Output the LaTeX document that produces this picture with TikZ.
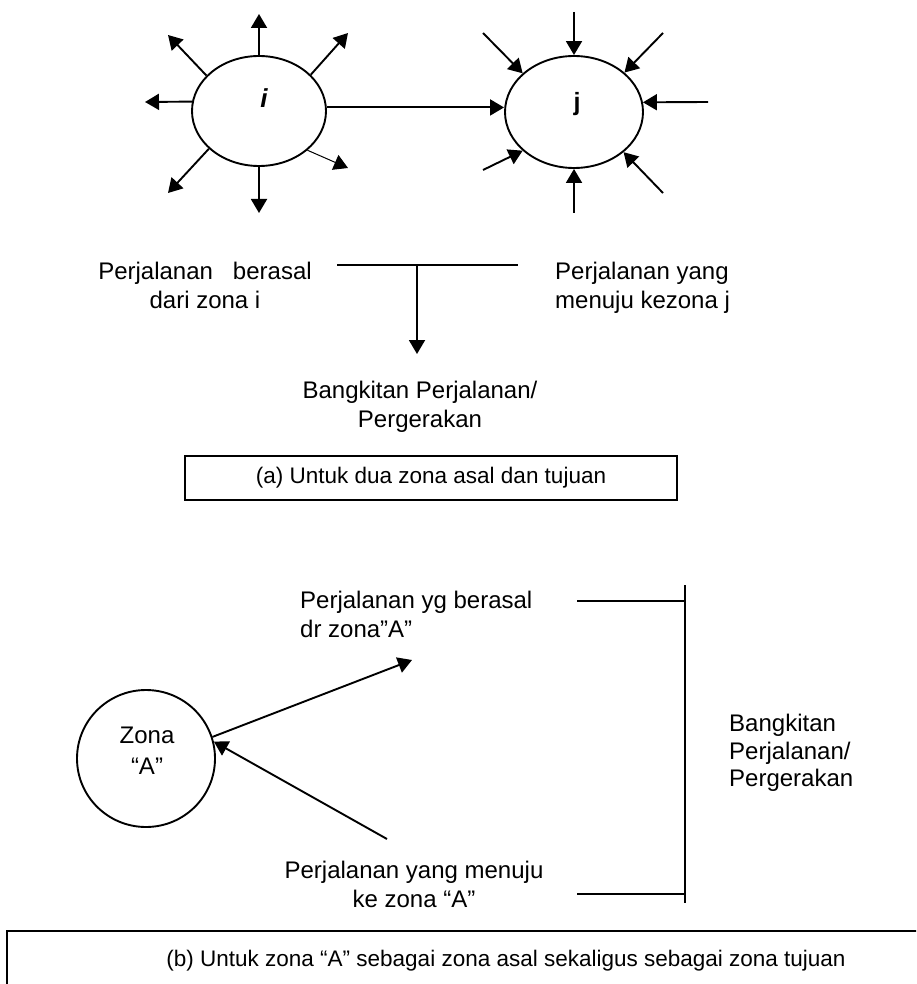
\documentclass[tikz,border=0pt]{standalone}
\usepackage{fontspec}
\setmainfont{Liberation Sans}
\usetikzlibrary{arrows.meta,shapes.geometric}
\tikzset{
  ln/.style={line width=1.9pt},
  arr/.style={ln,-{Triangle[length=14pt,width=16pt]}},
  zone/.style={ellipse,draw,line width=1.9pt,inner sep=0pt},
  txt/.style={font=\fontsize{24}{29}\selectfont,inner sep=0pt},
  capbox/.style={draw,line width=1.9pt,font=\fontsize{22.5}{28}\selectfont}
}
\begin{document}
\begin{tikzpicture}[x=1pt,y=-1pt]
\useasboundingbox (0,0) rectangle (916,984);
\clip (0,0) rectangle (916,984);
% ---- top: zone i and zone j
\node[zone,minimum width=134,minimum height=110] (i) at (259,111) {};
\node[zone,minimum width=138,minimum height=112] (j) at (574,112) {};
\node[txt,font=\fontsize{26}{28}\selectfont\bfseries\itshape] (li) at (264,98) {i};
\node[txt,font=\fontsize{25}{28}\selectfont\bfseries] (lj) at (577,104) {j};
% outgoing ends of i
\coordinate (io1) at (259,14);
\coordinate (io2) at (168,35);
\coordinate (io3) at (348,33);
\coordinate (io4) at (145,102);
\coordinate (io5) at (168,193);
\coordinate (io6) at (259,213);
\coordinate (io7) at (348,168);
\draw[arr] (i.90) -- (io1);
\draw[arr] (i.146) -- (io2);
\draw[arr] (i.35) -- (io3);
\draw[arr] (i.172) -- (io4);
\draw[arr] (i.217) -- (io5);
\draw[arr] (i.270) -- (io6);
\draw[arr,line width=1pt] (i.321) -- (io7);
\draw[arr] (i.3) -- (i.3 -| j.west);
% incoming starts of j
\coordinate (ji1) at (574,12);
\coordinate (ji2) at (483,33);
\coordinate (ji3) at (663,33);
\coordinate (ji4) at (708,102);
\coordinate (ji5) at (483,170);
\coordinate (ji6) at (663,193);
\coordinate (ji7) at (574,213);
\draw[arr] (ji1) -- (j.90);
\draw[arr] (ji2) -- (j.143);
\draw[arr] (ji3) -- (j.38);
\draw[arr] (ji4) -- (j.8);
\draw[arr] (ji5) -- (j.217);
\draw[arr] (ji6) -- (j.321);
\draw[arr] (ji7) -- (j.270);
% ---- middle
\node[txt,align=center,anchor=north] (oi) at (205,262) {Perjalanan\ \ \ berasal\\dari zona i};
\node[txt,align=left,anchor=north west] (dj) at (555,262) {Perjalanan yang\\menuju kezona j};
\node[txt,align=center,anchor=north] (gen1) at (420,381) {Bangkitan Perjalanan/\\Pergerakan};
\coordinate (hl) at (337,265);
\coordinate (hr) at (518,265);
\coordinate (hm) at (417,265);
\coordinate (hd) at (417,354);
\draw[ln] (hl) -- (hr);
\draw[arr] (hm) -- (hd);
\node[capbox,minimum width=492,minimum height=44] (boxa) at (431,478) {(a) Untuk dua zona asal dan tujuan};
% ---- bottom
\node[zone,minimum width=138,minimum height=137] (za) at (146,758.5) {};
\node[txt,align=center,anchor=north,font=\fontsize{24}{31}\selectfont] (zat) at (147,727) {Zona\\“A”};
\node[txt,align=left,anchor=north west] (fromA) at (300,591) {Perjalanan yg berasal\\dr zona”A”};
\node[txt,align=center,anchor=north] (toA) at (414,861) {Perjalanan yang menuju\\ke zona “A”};
\node[txt,align=left,anchor=north west,font=\fontsize{24}{27.5}\selectfont] (gen2) at (729,714) {Bangkitan\\Perjalanan/\\Pergerakan};
\coordinate (t1) at (412,660);
\coordinate (s2) at (387,839);
\draw[arr] (za.18) -- (t1);
\draw[arr] (s2) -- (za.14);
\coordinate (b1) at (577,601);
\coordinate (b2) at (685,601);
\coordinate (btop) at (685,585);
\coordinate (bbot) at (685,903);
\coordinate (b3) at (577,894);
\coordinate (b4) at (685,894);
\draw[ln] (b1) -- (b2);
\draw[ln] (btop) -- (bbot);
\draw[ln] (b3) -- (b4);
\node[capbox,minimum width=998,minimum height=60] (boxb) at (506,961) {(b) Untuk zona “A” sebagai zona asal sekaligus sebagai zona tujuan};
\end{tikzpicture}
\end{document}
